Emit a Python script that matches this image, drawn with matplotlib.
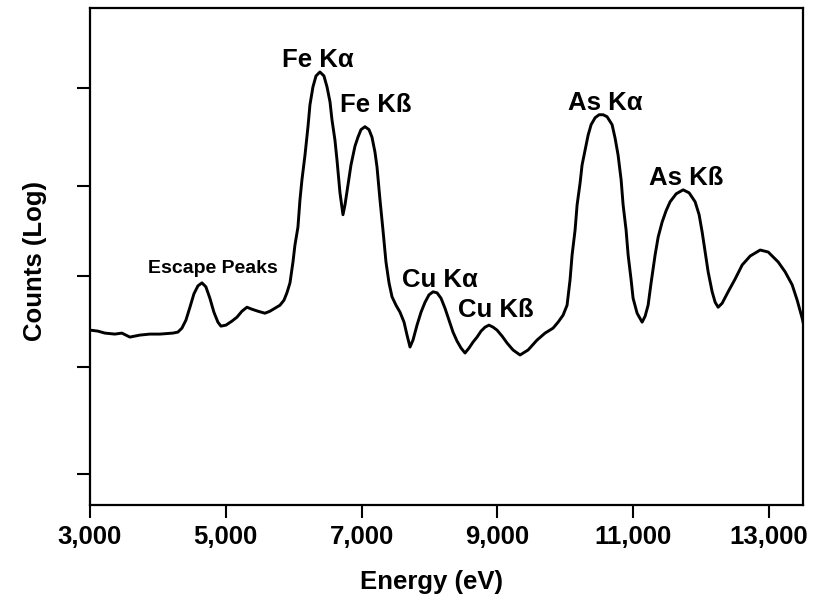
import matplotlib
matplotlib.use('Agg')
import matplotlib.pyplot as plt
from matplotlib import font_manager

# spectrum (energy in eV, counts on an arbitrary log scale 0-100)
energy = [3000, 3118, 3221, 3368, 3471, 3589, 3736, 3884, 4031, 4222, 4296, 4355,
          4414, 4473, 4532, 4591, 4650, 4708, 4767, 4826, 4885, 4929, 5003, 5091,
          5165, 5239, 5312, 5386, 5474, 5577, 5651, 5725, 5798, 5857, 5901, 5946,
          5990, 6019, 6063, 6093, 6122, 6167, 6211, 6240, 6284, 6329, 6387, 6446,
          6491, 6535, 6564, 6608, 6638, 6682, 6726, 6756, 6800, 6844, 6903, 6947,
          6991, 7050, 7109, 7153, 7197, 7227, 7271, 7315, 7359, 7404, 7448, 7507,
          7566, 7625, 7669, 7713, 7757, 7816, 7875, 7934, 7993, 8052, 8111, 8170,
          8228, 8287, 8346, 8405, 8464, 8523, 8582, 8641, 8700, 8759, 8818, 8876,
          8935, 8994, 9068, 9142, 9230, 9333, 9451, 9583, 9701, 9819, 9893, 9966,
          10025, 10069, 10099, 10143, 10173, 10217, 10246, 10290, 10335, 10379,
          10438, 10497, 10556, 10614, 10688, 10732, 10776, 10821, 10850, 10894,
          10924, 10968, 10997, 11056, 11130, 11174, 11218, 11262, 11321, 11366,
          11424, 11483, 11542, 11631, 11734, 11822, 11910, 11969, 12014, 12058,
          12102, 12161, 12205, 12249, 12308, 12396, 12500, 12603, 12721, 12868,
          12986, 13133, 13236, 13339, 13413, 13486, 13516]
counts = [35.2, 35.0, 34.6, 34.4, 34.6, 33.8, 34.2, 34.4, 34.4, 34.6, 34.8, 35.6,
          37.2, 39.8, 42.5, 44.1, 44.7, 43.9, 41.6, 38.8, 36.8, 36.0, 36.2, 37.0,
          37.8, 39.0, 39.8, 39.4, 39.0, 38.6, 39.0, 39.6, 40.2, 41.2, 42.7, 44.7,
          48.9, 52.3, 55.9, 61.4, 65.4, 70.4, 76.1, 80.5, 84.1, 86.3, 87.1, 86.3,
          84.1, 81.1, 77.5, 73.4, 69.4, 62.8, 58.4, 60.4, 64.4, 68.4, 72.2, 74.0,
          75.5, 76.1, 75.5, 74.0, 71.0, 68.0, 61.4, 55.3, 48.9, 44.7, 41.9, 40.2,
          38.8, 36.8, 34.2, 31.8, 33.2, 36.2, 38.8, 40.8, 42.3, 42.9, 42.7, 41.6,
          39.6, 37.2, 34.8, 33.0, 31.6, 30.6, 31.6, 32.8, 33.8, 35.0, 35.8, 36.2,
          35.8, 35.2, 34.0, 32.6, 31.2, 30.2, 31.2, 33.2, 34.6, 35.6, 36.8, 38.2,
          40.2, 45.3, 50.3, 55.3, 60.4, 64.8, 68.4, 71.4, 74.4, 76.5,
          77.9, 78.5, 78.5, 78.1, 76.5, 73.8, 70.4, 65.4, 60.4, 55.3,
          50.3, 45.3, 41.6, 38.6, 36.8, 38.0, 40.2, 44.7, 50.3, 53.9,
          56.9, 59.2, 61.0, 62.6, 63.4, 62.8, 61.0, 58.4, 54.9, 50.9,
          46.9, 42.9, 40.8, 39.8, 40.6, 42.9, 45.5, 48.3, 50.1, 51.3,
          50.9, 48.9, 46.9, 44.3, 41.2, 37.6, 35.8]

xticks = [3000, 5000, 7000, 9000, 11000, 13000]
yticks = [6.2, 27.8, 46.1, 64.2, 83.9]

peak_names = ['Fe K\u03b1', 'Fe K\u00df', 'Cu K\u03b1', 'Cu K\u00df', 'As K\u03b1', 'As K\u00df']
peak_x = [6358, 7212, 8155, 8972, 10592, 11778]
peak_y = [88.1, 79.1, 43.9, 37.8, 79.5, 64.4]

installed = {f.name for f in font_manager.fontManager.ttflist}
if 'Liberation Sans Narrow' in installed:
    narrow, nsize = 'Liberation Sans Narrow', 21
else:
    narrow, nsize = 'Liberation Sans', 18.5

fig = plt.figure(figsize=(8.17, 6), dpi=100)
ax = fig.add_axes([0.110, 0.158, 0.873, 0.829])

ax.plot(energy, counts, color='black', lw=2.1, solid_joinstyle='round')

ax.set_xlim(3000, 13500)
ax.set_ylim(0, 100)
ax.set_xticks(xticks)
ax.set_xticklabels(['{:,}'.format(v) for v in xticks], family=narrow,
                   fontsize=nsize, fontweight='bold')
ax.set_yticks(yticks)
ax.set_yticklabels([])
ax.tick_params(direction='out', length=9.5, width=1.5, pad=5)
for s in ax.spines.values():
    s.set_linewidth(1.6)

for name, x, y in zip(peak_names, peak_x, peak_y):
    ax.text(x, y, name, ha='center', va='baseline', family=narrow,
            fontsize=nsize, fontweight='bold')
ax.text(4804, 46.7, 'Escape Peaks', ha='center', va='baseline',
        family='Liberation Sans', fontsize=14, fontweight='bold')

ax.set_xlabel('Energy (eV)', family='Liberation Sans', fontsize=18.5, fontweight='bold')
ax.set_ylabel('Counts (Log)', family='Liberation Sans', fontsize=18.5, fontweight='bold')
ax.xaxis.set_label_coords(0.479, -0.13)
ax.yaxis.set_label_coords(-0.06, 0.49)

fig.savefig('out.png', dpi=100)
